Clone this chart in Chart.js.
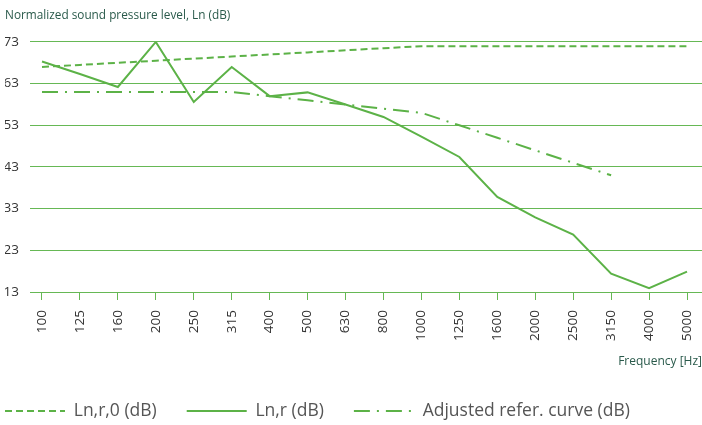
<!DOCTYPE html>
<html><head><meta charset="utf-8">
<script src="https://cdn.jsdelivr.net/npm/chart.js@4.4.1/dist/chart.umd.min.js"></script>
<style>html,body{margin:0;padding:0;background:#fff}#wrap{width:702px;height:425px;position:relative}</style>
</head><body><div id="wrap"><canvas id="c" width="702" height="425"></canvas></div>
<script>
// ---- data ----
const frequencies = ['100','125','160','200','250','315','400','500','630','800','1000','1250','1600','2000','2500','3150','4000','5000'];
const lnr0   = [67,67.5,68,68.5,69,69.5,70,70.5,71,71.5,72,72,72,72,72,72,72,72];
const lnr    = [68.3,65.3,62.2,73,58.6,67,60,60.9,58,55,50.3,45.4,35.8,30.9,26.8,17.4,13.9,17.9];
const adjRef = [61,61,61,61,61,61,60,59,58,57,56,53,50,47,44,41];
const yTicks = [13,23,33,43,53,63,73];
const seriesNames = ['Ln,r,0 (dB)','Ln,r (dB)','Adjusted refer. curve (dB)'];
const yTitle = 'Normalized sound pressure level, Ln (dB)';
const xTitle = 'Frequency [Hz]';

// ---- styles ----
const GREEN = '#5cb247';
const GRID = '#66b855';
const TEAL = '#2a5a4b';
const FONT = "'Open Sans', 'DejaVu Sans', sans-serif";

const toPts = arr => arr.map((v, i) => ({x: i, y: v}));

const legendShift = {
  id: 'legendShift',
  afterLayout(chart) {
    const lg = chart.legend;
    const dx = 5 - (lg.left + lg.options.labels.padding);
    lg.left += dx;
    lg.top += 4.75; lg.bottom += 4.75;
  }
};

new Chart(document.getElementById('c'), {
  type: 'line',
  data: {
    datasets: [
      {label: seriesNames[0], data: toPts(lnr0), borderColor: GREEN, backgroundColor: GREEN, borderWidth: 2, borderDash: [7,4], pointRadius: 0, tension: 0, fill: false},
      {label: seriesNames[1], data: toPts(lnr), borderColor: GREEN, backgroundColor: GREEN, borderWidth: 2, pointRadius: 0, tension: 0, fill: false},
      {label: seriesNames[2], data: toPts(adjRef), borderColor: GREEN, backgroundColor: GREEN, borderWidth: 2, borderDash: [16,7,2,7], pointRadius: 0, tension: 0, fill: false}
    ]
  },
  options: {
    responsive: false,
    animation: false,
    devicePixelRatio: 1,
    layout: {padding: {left: 5, right: 0, top: 0, bottom: 0}},
    plugins: {
      title: {display: true, text: yTitle, align: 'start', color: TEAL,
        font: {family: FONT, size: 11.8, weight: 'normal'}, padding: {top: 9, bottom: 18.8}},
      legend: {position: 'bottom', align: 'start',
        labels: {usePointStyle: true, pointStyle: 'line', pointStyleWidth: 60, color: '#555',
          font: {family: FONT, size: 17.5}, padding: 30,
          generateLabels: chart => Chart.defaults.plugins.legend.labels.generateLabels(chart).map(item => {
            const ds = chart.data.datasets[item.datasetIndex];
            item.lineDash = ds.borderDash || [];
            item.lineWidth = ds.borderWidth;
            item.strokeStyle = ds.borderColor;
            return item;
          })}},
      tooltip: {enabled: false}
    },
    scales: {
      x: {
        type: 'linear', min: -0.316, max: 17.395,
        afterBuildTicks: s => { s.ticks = frequencies.map((f, i) => ({value: i})); },
        afterFit: s => { s.height = 75.5; s.paddingLeft = 0; s.paddingRight = 0; },
        ticks: {autoSkip: false, minRotation: 90, maxRotation: 90, padding: 10, color: '#333',
          font: {family: FONT, size: 13.5}, callback: v => frequencies[v] ?? ''},
        grid: {drawOnChartArea: false, drawTicks: true, tickLength: 8, color: GRID, lineWidth: 1},
        border: {display: true, color: GRID, width: 1},
        title: {display: true, text: xTitle, align: 'end', color: TEAL,
          font: {family: FONT, size: 12}, padding: {top: 0, bottom: -1.7}}
      },
      y: {
        min: 13, max: 73,
        afterBuildTicks: s => { s.ticks = yTicks.map(v => ({value: v})); },
        afterFit: s => { s.width = 25; },
        ticks: {padding: 11, color: '#333', font: {family: FONT, size: 13.5}},
        grid: {color: GRID, lineWidth: 1, drawTicks: false},
        border: {display: false}
      }
    }
  },
  plugins: [legendShift]
});
</script></body></html>
